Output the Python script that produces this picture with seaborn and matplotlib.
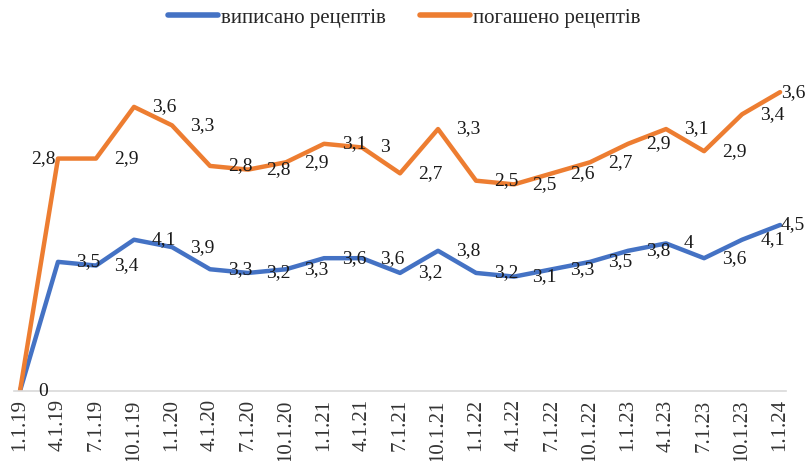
import matplotlib
matplotlib.use("Agg")
import matplotlib.pyplot as plt
import numpy as np
import pandas as pd
import seaborn as sns

# quarterly dates
dates = ['1.1.19', '4.1.19', '7.1.19', '10.1.19', '1.1.20', '4.1.20', '7.1.20',
         '10.1.20', '1.1.21', '4.1.21', '7.1.21', '10.1.21', '1.1.22', '4.1.22',
         '7.1.22', '10.1.22', '1.1.23', '4.1.23', '7.1.23', '10.1.23', '1.1.24']

# виписано рецептів
issued = [0, 3.5, 3.4, 4.1, 3.9, 3.3, 3.2, 3.3, 3.6, 3.6, 3.2, 3.8, 3.2, 3.1,
          3.3, 3.5, 3.8, 4, 3.6, 4.1, 4.5]
# погашено рецептів (stacked on top of issued)
redeemed = [0, 2.8, 2.9, 3.6, 3.3, 2.8, 2.8, 2.9, 3.1, 3, 2.7, 3.3, 2.5, 2.5,
            2.6, 2.7, 2.9, 3.1, 2.9, 3.4, 3.6]

series_names = ['виписано рецептів', 'погашено рецептів']
colors = ['#4472C4', '#ED7D31']

sns.set_style('white')
plt.rcParams['font.family'] = ['Liberation Serif', 'DejaVu Serif']

x = np.arange(len(dates))
stacked_top = np.array(issued) + np.array(redeemed)

df = pd.DataFrame({
    'x': np.concatenate([x, x]),
    'value': np.concatenate([issued, stacked_top]),
    'label': np.concatenate([issued, redeemed]),
    'series': [series_names[0]] * len(x) + [series_names[1]] * len(x),
})

fig = plt.figure(figsize=(8.07, 4.61), dpi=100)
ax = fig.add_axes([0.0177, 0.1518, 0.956, 0.8004])

sns.lineplot(data=df, x='x', y='value', hue='series', palette=colors,
             linewidth=3.2, ax=ax, legend=True)

def fmt(v):
    s = f'{v:g}'
    return s.replace('.', ',')

for name in series_names:
    sub = df[df['series'] == name].reset_index(drop=True)
    if name == series_names[1]:
        sub = sub.iloc[1:]  # the zero is shared with the first series
    for i, row in sub.iterrows():
        dx, ha = 13, 'left'
        if name == series_names[1] and i == 1:
            dx, ha = -2, 'right'
        if i == len(dates) - 1:
            dx = 0.5
        ax.annotate(fmt(row['label']), (row['x'], row['value']),
                    xytext=(dx, 0), textcoords='offset points',
                    ha=ha, va='center', fontsize=14, color='#1a1a1a',
                    annotation_clip=False)

ax.set_xlim(-0.15, 20.15)
ax.set_ylim(0, 10)
ax.set_xticks(x)
ax.set_xticklabels(dates, rotation=90, fontsize=15, color='#333333')
ax.tick_params(axis='x', length=0, pad=6)
ax.set_yticks([])
ax.set_xlabel('')
ax.set_ylabel('')
for side in ['top', 'right', 'left']:
    ax.spines[side].set_visible(False)
ax.spines['bottom'].set_color('#D9D9D9')
ax.spines['bottom'].set_linewidth(1.2)

handles, labels = ax.get_legend_handles_labels()
ax.legend(handles, labels, loc='center', bbox_to_anchor=(0.501, 0.961),
          bbox_transform=fig.transFigure, ncol=2, frameon=False,
          fontsize=15, handlelength=2.4, handletextpad=0.15,
          columnspacing=1.6)
for line in ax.get_legend().get_lines():
    line.set_linewidth(4)

fig.savefig('out.png', dpi=100)
